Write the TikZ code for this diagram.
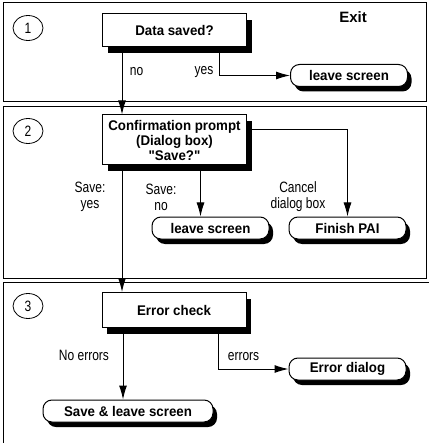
\documentclass[tikz,border=0pt]{standalone}
\usepackage{fontspec}
\setmainfont{Liberation Sans}
\newfontfamily\boxfont[FakeStretch=0.95]{Liberation Sans}
\newfontfamily\lblfont[FakeStretch=0.8]{Liberation Sans}
\usetikzlibrary{arrows.meta,shapes.geometric,shadows}

\begin{document}
\begin{tikzpicture}[x=1pt, y=-1pt, >={Latex[length=14pt,width=8pt]},
		panel/.style={line width=1pt},
		stepmark/.style={ellipse, draw, line width=0.8pt, minimum width=30, minimum height=25, inner sep=0pt, font=\lblfont\fontsize{15}{17}\selectfont},
		procbox/.style={draw, fill=white, line width=1pt, minimum width=144, inner sep=2pt, align=center,
				font=\boxfont\bfseries\fontsize{14}{15}\selectfont,
				drop shadow={shadow xshift=5pt, shadow yshift=-6pt, fill=black, opacity=1}},
		termbox/.style={draw, fill=white, line width=1pt, rounded corners=9pt, minimum width=117, minimum height=22, inner sep=2pt,
				font=\boxfont\bfseries\fontsize{14}{15}\selectfont,
				drop shadow={shadow xshift=4pt, shadow yshift=-5pt, fill=black, opacity=1}},
		lbl/.style={align=center, inner sep=1pt, font=\lblfont\fontsize{15}{16}\selectfont},
		flow/.style={->, line width=1pt}]
	\useasboundingbox (0,0) rectangle (429,443);
	% panels
	\draw[panel] (3,3) rectangle (426,102);
	\draw[panel] (3,107) rectangle (426,278);
	\draw[panel] (3,443) -- (3,282) -- (429,282);
	\node[stepmark] (st1) at (28,28) {1};
	\node[stepmark] (st2) at (28,131) {2};
	\node[stepmark] (st3) at (28,306) {3};
	\node[font=\bfseries\fontsize{15}{17}\selectfont] (exit) at (353,17) {Exit};

	% boxes
	\node[procbox, minimum height=33] (saved) at (174.5,30.5) {Data saved?};
	\node[termbox] (leave1) at (349,75.5) {leave screen};
	\node[procbox, minimum height=50] (confirm) at (174.5,140) {Confirmation prompt\\(Dialog box)\\"Save?"};
	\node[termbox] (leave2) at (210.5,228) {leave screen};
	\node[termbox] (finish) at (347.5,228) {Finish PAI};
	\node[procbox, minimum height=35] (errcheck) at (174,310) {Error check};
	\node[termbox] (errdlg) at (347.5,369) {Error dialog};
	\node[termbox, minimum width=170] (saveleave) at (128,411) {Save \& leave screen};

	% step 1
	\draw[flow] ([xshift=20pt]saved.south west) coordinate (c0) -- (c0 |- confirm.north);
	\draw[flow] ([xshift=-28pt]saved.south east) |- (leave1.west);
	\node[lbl] (tno) at (136.5,72) {no};
	\node[lbl] (tyes) at (204,72) {yes};

	% step 2
	\coordinate (nohit) at ([xshift=-10pt]leave2.north);
	\draw[flow] ([xshift=20pt]confirm.south west) coordinate (c1) -- (c1 |- errcheck.north);
	\draw[flow] (confirm.south -| nohit) -- (nohit);
	\draw[flow] ([yshift=10pt]confirm.east) -| (finish.north);
	\node[lbl] (tsaveyes) at (90,197) {Save:\\yes};
	\node[lbl] (tsaveno) at (161,197) {Save:\\no};
	\node[lbl] (tcancel) at (298,197) {Cancel\\dialog box};

	% step 3
	\coordinate (okhit) at ([xshift=-5pt]saveleave.north);
	\draw[flow] (errcheck.south -| okhit) -- (okhit);
	\draw[flow] ([xshift=-28pt]errcheck.south east) |- (errdlg.west);
	\node[lbl] (tnoerr) at (84,355) {No errors};
	\node[lbl] (terr) at (243.5,357) {errors};
\end{tikzpicture}
\end{document}
